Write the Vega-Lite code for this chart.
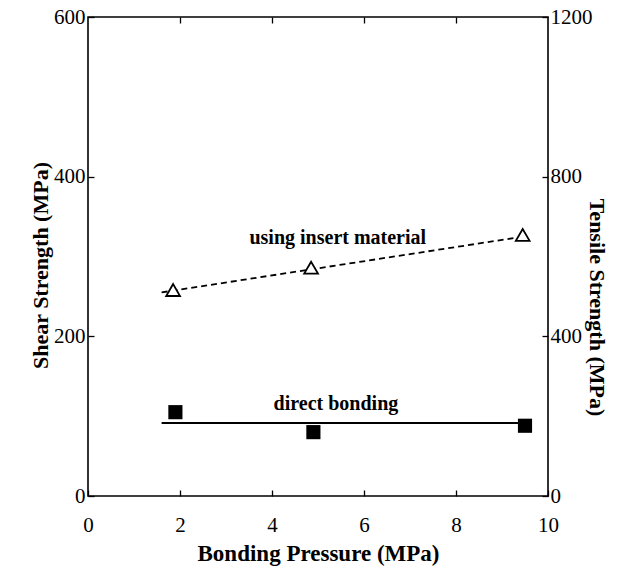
{
  "$schema": "https://vega.github.io/schema/vega-lite/v6.json",
  "autosize": "none",
  "width": 460,
  "height": 479,
  "padding": {"left": 88, "top": 17, "right": 79, "bottom": 76},
  "background": "white",
  "config": {
    "view": {"stroke": "black", "strokeWidth": 1.6},
    "font": "Liberation Serif",
    "axis": {
      "labelFont": "Liberation Serif",
      "titleFont": "Liberation Serif",
      "labelColor": "black",
      "titleColor": "black",
      "tickColor": "black",
      "domain": false,
      "grid": false,
      "labelFontSize": 21,
      "titleFontSize": 22,
      "titleFontWeight": "bold",
      "tickSize": -6,
      "tickWidth": 1.3,
      "labelFlush": false,
      "labelOverlap": false
    }
  },
  "datasets": {
    "points": [
      {"pressure": 1.85, "shear": 258, "method": "using insert material"},
      {"pressure": 4.85, "shear": 286, "method": "using insert material"},
      {"pressure": 9.45, "shear": 327, "method": "using insert material"},
      {"pressure": 1.9, "shear": 105, "method": "direct bonding"},
      {"pressure": 4.9, "shear": 80, "method": "direct bonding"},
      {"pressure": 9.5, "shear": 88, "method": "direct bonding"}
    ],
    "fits": [
      {"pressure": 1.6, "shear": 255, "method": "using insert material"},
      {"pressure": 9.25, "shear": 323, "method": "using insert material"},
      {"pressure": 1.6, "shear": 91.5, "method": "direct bonding"},
      {"pressure": 9.35, "shear": 91.5, "method": "direct bonding"}
    ],
    "labels": [
      {"pressure": 5.43, "shear": 323, "text": "using insert material"},
      {"pressure": 5.39, "shear": 115, "text": "direct bonding"}
    ]
  },
  "layer": [
    {
      "layer": [
        {
          "data": {"name": "fits"},
          "transform": [{"filter": "datum.method === 'using insert material'"}],
          "mark": {"type": "line", "color": "black", "strokeWidth": 1.8, "strokeDash": [6, 4]},
          "encoding": {
            "x": {"field": "pressure", "type": "quantitative"},
            "y": {"field": "shear", "type": "quantitative"}
          }
        },
        {
          "data": {"name": "fits"},
          "transform": [{"filter": "datum.method === 'direct bonding'"}],
          "mark": {"type": "line", "color": "black", "strokeWidth": 2},
          "encoding": {
            "x": {"field": "pressure", "type": "quantitative"},
            "y": {"field": "shear", "type": "quantitative"}
          }
        },
        {
          "data": {"name": "points"},
          "transform": [{"filter": "datum.method === 'using insert material'"}],
          "mark": {"type": "point", "shape": "triangle-up", "size": 190, "color": "black", "fill": "white", "filled": true, "stroke": "black", "strokeWidth": 1.8, "opacity": 1},
          "encoding": {
            "x": {"field": "pressure", "type": "quantitative"},
            "y": {"field": "shear", "type": "quantitative"}
          }
        },
        {
          "data": {"name": "points"},
          "transform": [{"filter": "datum.method === 'direct bonding'"}],
          "mark": {"type": "square", "size": 200, "color": "black", "opacity": 1},
          "encoding": {
            "x": {
              "field": "pressure", "type": "quantitative",
              "scale": {"domain": [0, 10]},
              "axis": {"orient": "bottom", "values": [0, 2, 4, 6, 8, 10], "title": "Bonding Pressure (MPa)", "labelPadding": 24, "titleY": 57, "titleBaseline": "middle", "titleFontSize": 23}
            },
            "y": {
              "field": "shear", "type": "quantitative",
              "scale": {"domain": [0, 600]},
              "axis": {"orient": "left", "values": [0, 200, 400, 600], "title": "Shear Strength (MPa)", "labelPadding": 9, "titleX": -48, "titleY": 248, "titleBaseline": "middle"}
            }
          }
        },
        {
          "data": {"name": "labels"},
          "mark": {"type": "text", "font": "Liberation Serif", "fontWeight": "bold", "fontSize": 20, "color": "black"},
          "encoding": {
            "x": {"field": "pressure", "type": "quantitative"},
            "y": {"field": "shear", "type": "quantitative"},
            "text": {"field": "text"}
          }
        }
      ]
    },
    {
      "data": {"values": [{}]},
      "mark": {"type": "point", "opacity": 0},
      "encoding": {
        "x": {
          "datum": 0, "type": "quantitative",
          "scale": {"domain": [0, 10]},
          "axis": {"orient": "top", "values": [2, 4, 6, 8], "labels": false, "title": null}
        },
        "y": {
          "datum": 0, "type": "quantitative",
          "scale": {"domain": [0, 1200]},
          "axis": {"orient": "right", "values": [0, 400, 800, 1200], "format": "d", "title": "Tensile Strength (MPa)", "labelPadding": 8, "titleX": 48, "titleY": 290, "titleBaseline": "middle"}
        }
      }
    }
  ],
  "resolve": {"scale": {"x": "independent", "y": "independent"}}
}
